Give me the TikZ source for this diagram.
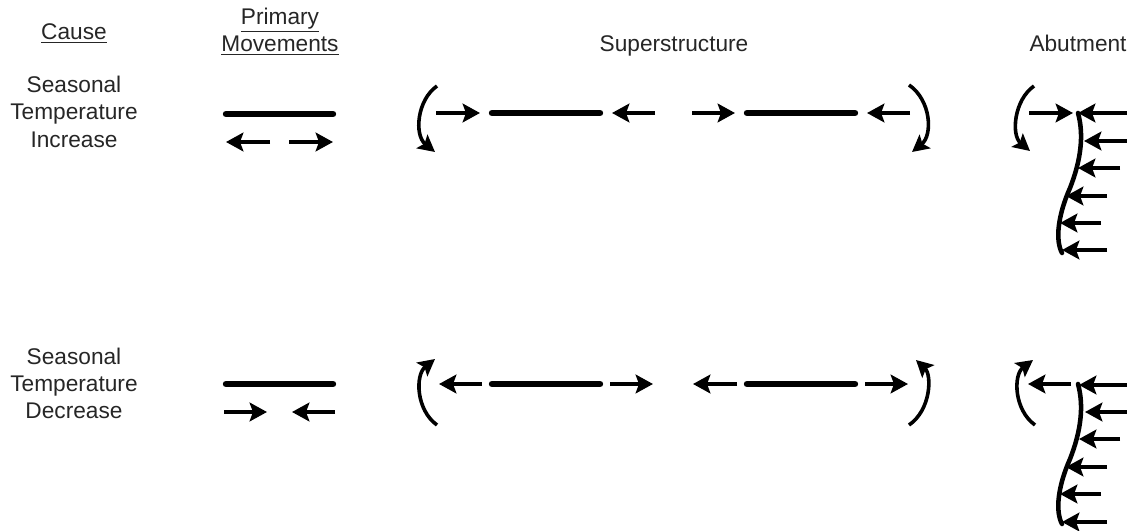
\documentclass[tikz,border=0pt]{standalone}
\usepackage{fontspec}
\setmainfont{Liberation Sans}
\usetikzlibrary{arrows.meta}
\begin{document}
\begin{tikzpicture}[x=0.75pt,y=-0.75pt,
  lbl/.style={anchor=base,inner sep=0pt,font=\fontsize{17}{20}\selectfont,text=black!85},
  arr/.style={line width=3pt,-{Stealth[length=13pt,width=14pt,inset=2.5pt]}},
  carr/.style={line width=2.7pt,-{Stealth[length=12.5pt,width=13pt,inset=2.5pt]}},
  bar/.style={line width=4.8pt,line cap=round},
  wall/.style={line width=3.4pt,line cap=round}]
\useasboundingbox (0,0) rectangle (1127,531);
% headings
\node[lbl] (cause) at (74,40) {\underline{Cause}};
\node[lbl] (prim) at (280,25) {\underline{Primary}};
\node[lbl] (mov) at (280,52) {\underline{Movements}};
\node[lbl] (sup) at (674,52) {Superstructure};
\node[lbl] (abut) at (1078,52) {Abutment};
% causes
\node[lbl] (s1) at (74,93) {Seasonal};
\node[lbl] (t1) at (74,120) {Temperature};
\node[lbl] (i1) at (74,147) {Increase};
\node[lbl] (s2) at (74,364) {Seasonal};
\node[lbl] (t2) at (74,391) {Temperature};
\node[lbl] (d2) at (74,418) {Decrease};

% ===== Row 1: increase =====
% primary movements
\draw[bar] (226,114) -- (333,114);
\draw[arr] (270,142) -- (226,142);
\draw[arr] (289,142) -- (333,142);
% superstructure
\draw[carr] (437,86) .. controls (417,100) and (414,135) .. (435,152);
\draw[arr] (436,113) -- (480,113);
\draw[bar] (492,113) -- (600,113);
\draw[arr] (655,113) -- (612,113);
\draw[arr] (692,113) -- (735,113);
\draw[bar] (747,113) -- (855,113);
\draw[arr] (910,113) -- (867,113);
\draw[carr] (909,85) .. controls (931,100) and (933,135) .. (912,152);
% abutment
\draw[carr] (1034,86) .. controls (1014,100) and (1011,135) .. (1030,151);
\draw[arr] (1029,113) -- (1073,113);
\draw[wall] (1078,113) .. controls (1084,135) and (1081,160) .. (1070,188)
   .. controls (1058,215) and (1055,240) .. (1062,253);
\draw[arr] (1127,113) -- (1078,113);
\draw[arr] (1130,141) -- (1084,141);
\draw[arr] (1120,168) -- (1078,168);
\draw[arr] (1107,196) -- (1066,196);
\draw[arr] (1101,223) -- (1060,223);
\draw[arr] (1107,250) -- (1062,250);

% ===== Row 2: decrease =====
\draw[bar] (226,384) -- (333,384);
\draw[arr] (224,412) -- (267,412);
\draw[arr] (335,412) -- (292,412);
% superstructure
\draw[carr] (437,425) .. controls (416,410) and (415,375) .. (435,359);
\draw[arr] (482,384) -- (439,384);
\draw[bar] (492,384) -- (600,384);
\draw[arr] (610,384) -- (653,384);
\draw[arr] (737,384) -- (693,384);
\draw[bar] (747,384) -- (855,384);
\draw[arr] (865,384) -- (908,384);
\draw[carr] (909,425) .. controls (931,410) and (932,375) .. (916,360);
% abutment
\draw[carr] (1035,425) .. controls (1014,410) and (1013,375) .. (1033,360);
\draw[arr] (1071,384) -- (1028,384);
\draw[wall] (1078,384) .. controls (1084,406) and (1081,431) .. (1070,459)
   .. controls (1058,486) and (1055,511) .. (1062,524);
\draw[arr] (1127,385) -- (1079,385);
\draw[arr] (1130,412) -- (1085,412);
\draw[arr] (1120,439) -- (1079,439);
\draw[arr] (1107,467) -- (1066,467);
\draw[arr] (1101,494) -- (1060,494);
\draw[arr] (1107,522) -- (1062,522);
\end{tikzpicture}
\end{document}
